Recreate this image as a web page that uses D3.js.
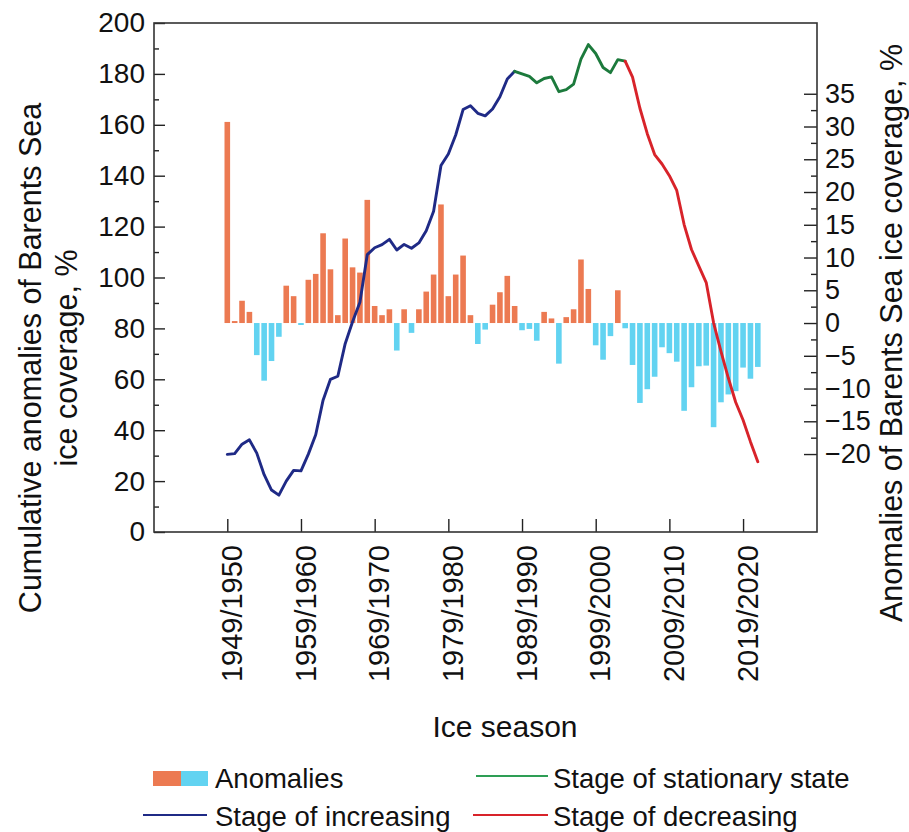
<!DOCTYPE html>
<html>
<head>
<meta charset="utf-8">
<script src="https://cdn.jsdelivr.net/npm/d3@7"></script>
<style>
  body { margin: 0; background: #fff; }
  svg { display: block; }
  text { font-family: "Liberation Sans", Arial, Helvetica, sans-serif; fill: #111; }
</style>
</head>
<body>
<svg id="chart" width="909" height="832"></svg>
<script>
// Ice seasons, identified by their starting year (1949/1950 ... 2021/2022)
const seasonStart = d3.range(1949, 2022);

// Yearly anomalies of Barents Sea ice coverage, %
const anomalies = [
  30.7, 0.3, 3.4, 1.7, -4.9, -8.8, -5.8, -2.1, 5.7, 4.1,
  -0.3, 6.6, 7.5, 13.7, 8.2, 1.2, 12.9, 8.5, 7.7, 18.8,
  2.6, 1.2, 2.1, -4.2, 2.1, -1.5, 2.1, 4.8, 7.4, 18.1,
  4.1, 7.4, 10.3, 1.2, -3.2, -1.0, 2.8, 4.7, 7.2, 2.6,
  -1.1, -0.9, -2.7, 1.7, 0.7, -6.2, 0.9, 2.1, 9.7, 5.2,
  -3.4, -5.6, -2.0, 5.0, -0.8, -6.4, -12.2, -10.1, -8.2, -3.7,
  -4.6, -5.9, -13.4, -9.8, -6.6, -6.5, -15.9, -12.1, -10.9, -10.4,
  -6.8, -8.5, -6.7
];

// Cumulative anomalies, %
const cumulative = [
  30.5, 30.8, 34.5, 36.2, 31.0, 22.5, 16.5, 14.5, 20.0, 24.2,
  24.0, 30.6, 38.2, 51.8, 60.0, 61.2, 74.0, 82.6, 90.3, 109.0,
  111.7, 112.9, 115.0, 110.8, 113.0, 111.5, 113.6, 118.4, 126.0, 144.0,
  148.5, 156.0, 166.0, 167.5, 164.5, 163.5, 166.2, 171.0, 178.0, 181.0,
  180.0, 179.0, 176.5, 178.2, 178.8, 173.0, 173.8, 176.0, 185.8, 191.5,
  188.0, 182.5, 180.5, 185.6, 185.0, 178.7, 166.5, 156.5, 148.3, 144.6,
  140.0, 134.2, 120.8, 111.0, 104.5, 98.0, 82.2, 71.0, 60.5, 51.0,
  44.0, 35.5, 27.6
];

// Stages of the cumulative curve: [first season, last season]
const stageNames  = ["Stage of increasing", "Stage of stationary state", "Stage of decreasing"];
const stageRanges = [[1949, 1988], [1988, 2003], [2003, 2021]];
const stageColors = ["#1f2a86", "#1c7a3c", "#d8232a"];

// Axis ticks
const labelSeasons = [1949, 1959, 1969, 1979, 1989, 1999, 2009, 2019];
const leftTicks  = [0, 20, 40, 60, 80, 100, 120, 140, 160, 180, 200];
const leftMinor  = [10, 30, 50, 70, 90, 110, 130, 150, 170, 190];
const rightTicks = [-20, -15, -10, -5, 0, 5, 10, 15, 20, 25, 30, 35];
const rightMinor = [-17.5, -12.5, -7.5, -2.5, 2.5, 7.5, 12.5, 17.5, 22.5, 27.5, 32.5];

const posColor = "#ec7a52";
const negColor = "#62d3f1";

const svg = d3.select("#chart");
const box = { left: 154, right: 817, top: 23, bottom: 532 };

const x = d3.scalePoint()
  .domain(seasonStart)
  .range([227.3, 757.8]);
const barW = x.step() * 0.76;

const yL = d3.scaleLinear().domain([0, 200]).range([box.bottom, box.top]);
const yR = d3.scaleLinear().domain([-31.9, 45.8]).range([box.bottom, box.top]);

// Anomaly bars (right axis)
svg.append("g")
  .selectAll("rect")
  .data(seasonStart.map((s, i) => ({ s, v: anomalies[i] })))
  .join("rect")
  .attr("x", d => x(d.s) - barW / 2)
  .attr("width", barW)
  .attr("y", d => yR(Math.max(0, d.v)))
  .attr("height", d => Math.abs(yR(d.v) - yR(0)))
  .attr("fill", d => d.v >= 0 ? posColor : negColor);

// Cumulative curve, coloured by stage
const series = seasonStart.map((s, i) => ({ s, v: cumulative[i] }));
const line = d3.line().x(d => x(d.s)).y(d => yL(d.v));
stageRanges.forEach((r, k) => {
  svg.append("path")
    .datum(series.filter(d => d.s >= r[0] && d.s <= r[1]))
    .attr("d", line)
    .attr("fill", "none")
    .attr("stroke", stageColors[k])
    .attr("stroke-width", 2.9)
    .attr("stroke-linejoin", "round")
    .attr("stroke-linecap", "round");
});

// Left axis
const gL = svg.append("g").attr("transform", `translate(${box.left},0)`)
  .call(d3.axisLeft(yL).tickValues(leftTicks).tickSize(-11).tickPadding(9));
gL.append("g").call(d3.axisLeft(yL).tickValues(leftMinor).tickSize(-5).tickFormat(""));
gL.selectAll(".domain").remove();
gL.selectAll("text").style("font-size", "28px");

// Right axis
const gR = svg.append("g").attr("transform", `translate(${box.right},0)`)
  .call(d3.axisRight(yR).tickValues(rightTicks).tickSize(-13).tickPadding(8));
gR.append("g").call(d3.axisRight(yR).tickValues(rightMinor).tickSize(-6).tickFormat(""));
gR.selectAll(".domain").remove();
gR.selectAll("text").style("font-size", "27px");

// Bottom axis with rotated season labels
const gB = svg.append("g").attr("transform", `translate(0,${box.bottom})`)
  .call(d3.axisBottom(x).tickValues(labelSeasons).tickSize(-13)
    .tickFormat(s => `${s}/${s + 1}`));
gB.selectAll(".domain").remove();
gB.selectAll("text")
  .style("font-size", "29px")
  .attr("transform", "rotate(-90)")
  .attr("text-anchor", "end")
  .attr("x", -13)
  .attr("y", 4)
  .attr("dy", "0.35em");

svg.selectAll(".tick line").attr("stroke", "#222").attr("stroke-width", 1.4);

// Frame
svg.append("rect")
  .attr("x", box.left).attr("y", box.top)
  .attr("width", box.right - box.left).attr("height", box.bottom - box.top)
  .attr("fill", "none").attr("stroke", "#333").attr("stroke-width", 1.6);

// Axis titles
svg.append("text")
  .attr("transform", "translate(505,737)")
  .attr("text-anchor", "middle")
  .style("font-size", "30px")
  .text("Ice season");

const leftTitle = svg.append("text")
  .attr("transform", "translate(0,358) rotate(-90)")
  .attr("text-anchor", "middle")
  .style("font-size", "30.5px");
leftTitle.append("tspan").attr("x", 0).attr("y", 41).text("Cumulative anomalies of Barents Sea");
leftTitle.append("tspan").attr("x", 0).attr("y", 77).text("ice coverage, %");

svg.append("text")
  .attr("transform", "translate(902,333) rotate(-90)")
  .attr("text-anchor", "middle")
  .style("font-size", "30.5px")
  .text("Anomalies of Barents Sea ice coverage, %");

// Legend
const leg = svg.append("g");
leg.append("rect").attr("x", 153).attr("y", 771).attr("width", 28).attr("height", 15).attr("fill", posColor);
leg.append("rect").attr("x", 181).attr("y", 771).attr("width", 27).attr("height", 15).attr("fill", negColor);
leg.append("text").attr("x", 215).attr("y", 788).style("font-size", "27.5px").text("Anomalies");

const legendLines = [
  { x1: 143, x2: 207, y: 815, tx: 215, ty: 826, k: 0 },
  { x1: 476, x2: 548, y: 776, tx: 553, ty: 788, k: 1 },
  { x1: 473, x2: 548, y: 815, tx: 553, ty: 826, k: 2 }
];
const legendColors = ["#1f2a86", "#2e9e55", "#d8232a"];
legendLines.forEach(d => {
  leg.append("line")
    .attr("x1", d.x1).attr("x2", d.x2).attr("y1", d.y).attr("y2", d.y)
    .attr("stroke", legendColors[d.k]).attr("stroke-width", 2.2);
  leg.append("text").attr("x", d.tx).attr("y", d.ty).style("font-size", "27.5px").text(stageNames[d.k]);
});
</script>
</body>
</html>
